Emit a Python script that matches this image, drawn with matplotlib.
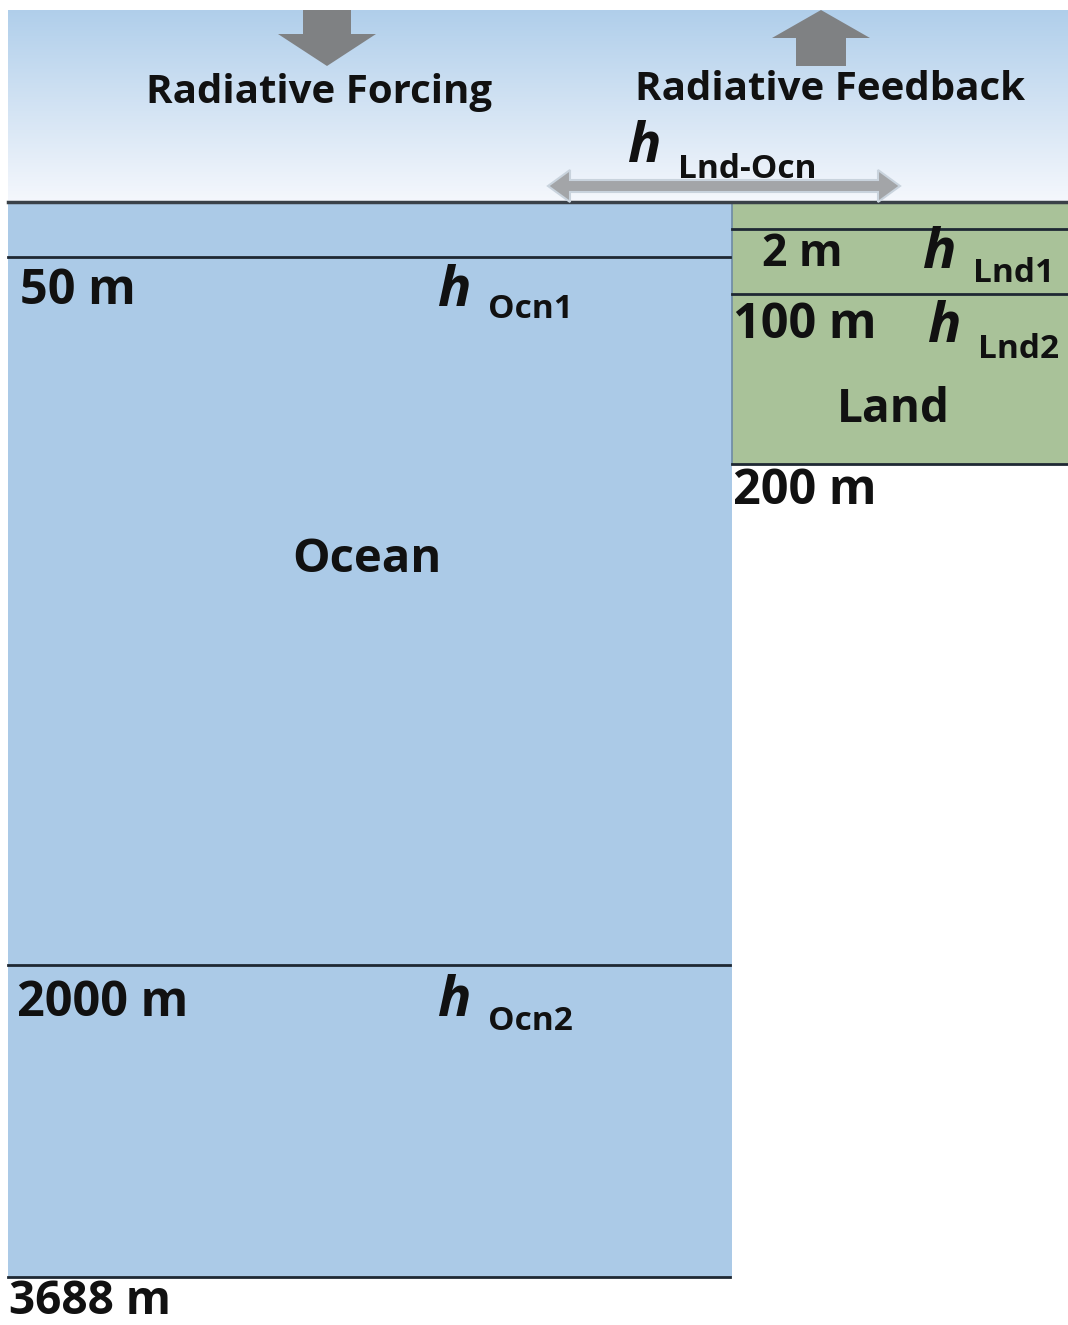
import numpy as np
import matplotlib.pyplot as plt
from matplotlib.patches import Rectangle, Polygon

# labels of the layers (depth markers)
ocean_depths = ["50 m", "2000 m", "3688 m"]
land_depths = ["2 m", "100 m", "200 m"]
ocean_h = ["Ocn1", "Ocn2"]
land_h = ["Lnd1", "Lnd2"]
flux_labels = ["Radiative Forcing", "Radiative Feedback"]

# layout (pixels, y grows downward)
W, H = 1068, 1325
surface_y = 202
ocean_x = (8, 732)
ocean_line_y = [257, 965, 1277]
land_x = (732, 1068)
land_line_y = [229, 294, 464]

ocean_col = "#abcae7"
land_col = "#a9c299"
line_col = "#1e2833"
arrow_col = "#7f8183"

FONT = "Open Sans"

fig = plt.figure(figsize=(W / 100, H / 100), dpi=100)
ax = fig.add_axes([0, 0, 1, 1])
ax.set_xlim(0, W)
ax.set_ylim(H, 0)
ax.axis("off")

# sky gradient
grad = np.linspace(0, 1, 256).reshape(-1, 1)
top = np.array([0.69, 0.81, 0.92])
bot = np.array([0.96, 0.97, 0.99])
img = top + (bot - top) * grad[..., None]
ax.imshow(img, extent=(8, W, surface_y, 10), aspect="auto", zorder=0)

# ocean and land boxes
ax.add_patch(Rectangle((ocean_x[0], surface_y), ocean_x[1] - ocean_x[0],
                       ocean_line_y[-1] - surface_y, fc=ocean_col, ec="none", zorder=1))
ax.add_patch(Rectangle((land_x[0], surface_y), land_x[1] - land_x[0],
                       land_line_y[-1] - surface_y, fc=land_col, ec="none", zorder=1))
ax.plot([land_x[0], land_x[0]], [surface_y, land_line_y[-1]], color="#6d8aa5", lw=1.2, zorder=2)

ax.plot([8, W], [surface_y, surface_y], color="#3a4148", lw=2.5, zorder=3)
for y in ocean_line_y:
    ax.plot([ocean_x[0], ocean_x[1] - 2], [y, y], color=line_col, lw=2, zorder=3)
for y in land_line_y:
    ax.plot([land_x[0], land_x[1]], [y, y], color=line_col, lw=2, zorder=3)

# big flux arrows
def block_arrow(cx, y_tail, y_tip, shaft_w, head_w, head_l):
    d = np.sign(y_tip - y_tail)
    yb = y_tip - d * head_l
    pts = [(cx - shaft_w / 2, y_tail), (cx + shaft_w / 2, y_tail), (cx + shaft_w / 2, yb),
           (cx + head_w / 2, yb), (cx, y_tip), (cx - head_w / 2, yb), (cx - shaft_w / 2, yb)]
    ax.add_patch(Polygon(pts, closed=True, fc=arrow_col, ec="none", zorder=4))

block_arrow(327, 10, 66, 48, 98, 32)
block_arrow(821, 66, 10, 50, 98, 28)

# double arrow between land and ocean
x0, x1, ya = 548, 900, 186
sh, hw, hl = 12, 32, 22
pts = [(x0, ya), (x0 + hl, ya - hw / 2), (x0 + hl, ya - sh / 2), (x1 - hl, ya - sh / 2),
       (x1 - hl, ya - hw / 2), (x1, ya), (x1 - hl, ya + hw / 2), (x1 - hl, ya + sh / 2),
       (x0 + hl, ya + sh / 2), (x0 + hl, ya + hw / 2)]
ax.add_patch(Polygon(pts, closed=True, fc="#a3a5a8", ec="#c9d3dd", lw=1.5, zorder=4))

tk = dict(family=FONT, fontweight="bold", color="#111111", zorder=5)

ax.text(319, 93, flux_labels[0], fontsize=29, ha="center", va="center", **tk)
ax.text(830, 89, flux_labels[1], fontsize=29, ha="center", va="center", **tk)

def hlabel(x, y, sub, sy, dx=33):
    ax.text(x, y, "h", fontsize=40, style="italic", ha="center", va="center", **tk)
    ax.text(x + dx, sy, sub, fontsize=24, ha="left", va="center", **tk)

hlabel(645, 147, "Lnd-Ocn", 169)
hlabel(455, 291, ocean_h[0], 309)
hlabel(455, 1001, ocean_h[1], 1022)
hlabel(940, 254, land_h[0], 273)
hlabel(945, 328, land_h[1], 349)

ax.text(20, 291, ocean_depths[0], fontsize=35, ha="left", va="center", **tk)
ax.text(17, 1003, ocean_depths[1], fontsize=35, ha="left", va="center", **tk)
ax.text(9, 1302, ocean_depths[2], fontsize=33, ha="left", va="center", **tk)

ax.text(802, 255, land_depths[0], fontsize=32, ha="center", va="center", **tk)
ax.text(733, 325, land_depths[1], fontsize=35, ha="left", va="center", **tk)
ax.text(733, 491, land_depths[2], fontsize=35, ha="left", va="center", **tk)

ax.text(893, 409, "Land", fontsize=33, ha="center", va="center", **tk)
ax.text(367, 559, "Ocean", fontsize=34, ha="center", va="center", **tk)

fig.savefig("out.png", dpi=100, facecolor="white")
